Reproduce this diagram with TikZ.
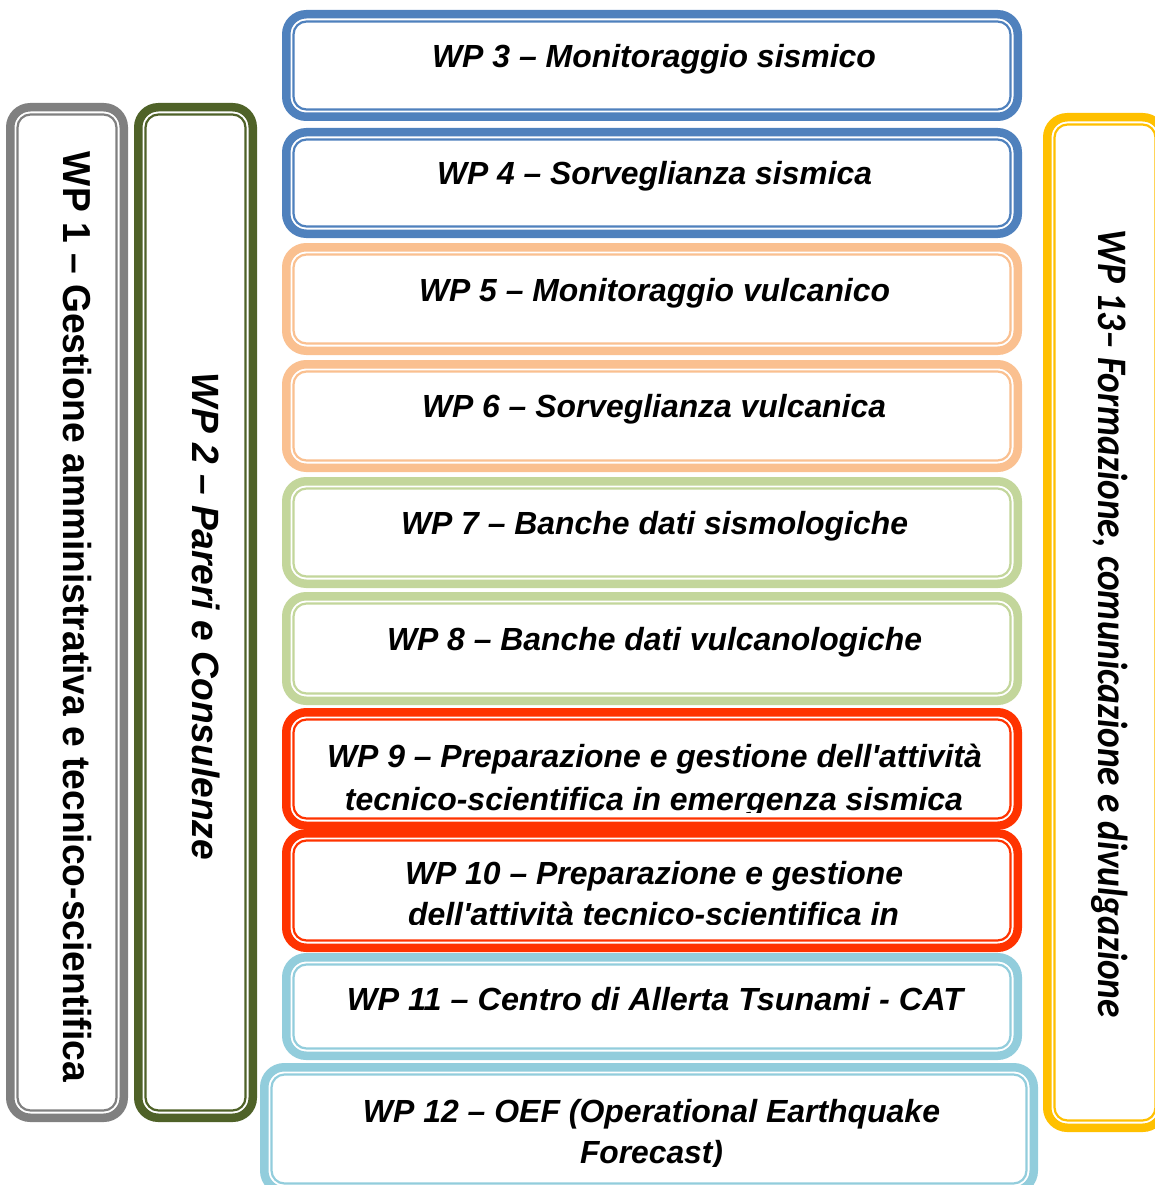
\documentclass[tikz,border=0pt]{standalone}
\usepackage{fontspec}
\usepackage{graphicx}
\setmainfont{Liberation Sans}
\newfontfamily\calib{Carlito}
\definecolor{cgray}{HTML}{808080}
\definecolor{cdkgreen}{HTML}{4F6228}
\definecolor{cblue}{HTML}{4F81BD}
\definecolor{cpeach}{HTML}{FAC090}
\definecolor{cltgreen}{HTML}{C3D69B}
\definecolor{cred}{HTML}{FF3300}
\definecolor{cltblue}{HTML}{92CDDC}
\definecolor{cyellow}{HTML}{FFC000}
\tikzset{
  outerline/.style={line width=8.5pt, rounded corners=20pt},
  innerline/.style={line width=2.2pt, rounded corners=13pt},
  wptext/.style={anchor=base, inner sep=0pt, font=\fontsize{32}{38}\selectfont\bfseries\itshape},
  vtext/.style={anchor=base, inner sep=0pt, rotate=-90}
}
% #1 name, #2 x0, #3 y0, #4 x1, #5 y1, #6 colour
\newcommand\wpbox[6]{%
  \fill[white, rounded corners=20pt] (#2,#3) rectangle (#4,#5);
  \draw[#6, outerline] (#2+4.25,#3+4.25) rectangle (#4-4.25,#5-4.25);
  \draw[#6, innerline] (#2+11.5,#3+11.5) rectangle (#4-11.5,#5-11.5);
  \coordinate (#1) at ({(#2+#4)/2},{(#3+#5)/2});
}
\newcommand\fitw[2]{\resizebox{#1pt}{\height}{#2}}
\begin{document}
\begin{tikzpicture}[x=1pt,y=-1pt]
\useasboundingbox (0,0) rectangle (1155,1185);
\clip (0,0) rectangle (1155,1185);
% side columns
\wpbox{b1}{6}{103}{128}{1122}{cgray}
\wpbox{b2}{134}{103}{257}{1122}{cdkgreen}
\wpbox{b13}{1043}{113}{1167}{1132}{cyellow}
% central column
\wpbox{b3}{282}{10}{1022}{121}{cblue}
\wpbox{b4}{282}{128}{1022}{238}{cblue}
\wpbox{b5}{282}{243}{1022}{355}{cpeach}
\wpbox{b6}{282}{360}{1022}{472}{cpeach}
\wpbox{b7}{282}{477}{1022}{588}{cltgreen}
\wpbox{b8}{282}{592}{1022}{705}{cltgreen}
\wpbox{b9}{282}{708}{1022}{830}{cred}
\wpbox{b10}{282}{829}{1022}{952}{cred}
\wpbox{b11}{282}{953}{1022}{1060}{cltblue}
\wpbox{b12}{260}{1063}{1038}{1195}{cltblue}
% texts
\node[wptext] (t3) at (654,68) {\fitw{444}{WP 3 – Monitoraggio sismico}};
\node[wptext] (t4) at (654.5,185) {\fitw{435}{WP 4 – Sorveglianza sismica}};
\node[wptext] (t5) at (654.5,301) {\fitw{471}{WP 5 – Monitoraggio vulcanico}};
\node[wptext] (t6) at (654,417) {\fitw{464}{WP 6 – Sorveglianza vulcanica}};
\node[wptext] (t7) at (654.5,534) {\fitw{507}{WP 7 – Banche dati sismologiche}};
\node[wptext] (t8) at (654.5,650) {\fitw{535}{WP 8 – Banche dati vulcanologiche}};
\begin{scope}
  \clip (290,716) rectangle (1014,812);
  \node[wptext] (t9a) at (654.5,767) {\fitw{655}{WP 9 – Preparazione e gestione dell\textquotesingle attività}};
  \node[wptext] (t9b) at (654,810) {\fitw{618}{tecnico-scientifica in emergenza sismica}};
\end{scope}
\begin{scope}
  \clip (290,837) rectangle (1014,924);
  \node[wptext] (t10a) at (654,884) {\fitw{498}{WP 10 – Preparazione e gestione}};
  \node[wptext] (t10b) at (653.5,925) {\fitw{491}{dell\textquotesingle attività tecnico-scientifica in}};
\end{scope}
\node[wptext] (t11) at (655,1010) {\fitw{616}{WP 11 – Centro di Allerta Tsunami - CAT}};
\begin{scope}
  \clip (268,1071) rectangle (1030,1166);
  \node[wptext] (t12a) at (651.5,1122) {\fitw{577}{WP 12 – OEF (Operational Earthquake}};
  \node[wptext] (t12b) at (651.5,1163) {\fitw{143}{Forecast)}};
\end{scope}
\node[vtext, font=\fontsize{39}{46}\selectfont\bfseries] (t1) at (63,617) {\fitw{930}{WP 1 – Gestione amministrativa e tecnico-scientifica}};
\node[vtext, font=\fontsize{38}{46}\selectfont\bfseries\itshape] (t2) at (192,616.5) {\fitw{487}{WP 2 – Pareri e Consulenze}};
\node[vtext, font=\calib\fontsize{42}{50}\selectfont\bfseries\itshape] (t13) at (1098,624) {\fitw{788}{WP 13– Formazione, comunicazione e divulgazione}};
\end{tikzpicture}
\end{document}
